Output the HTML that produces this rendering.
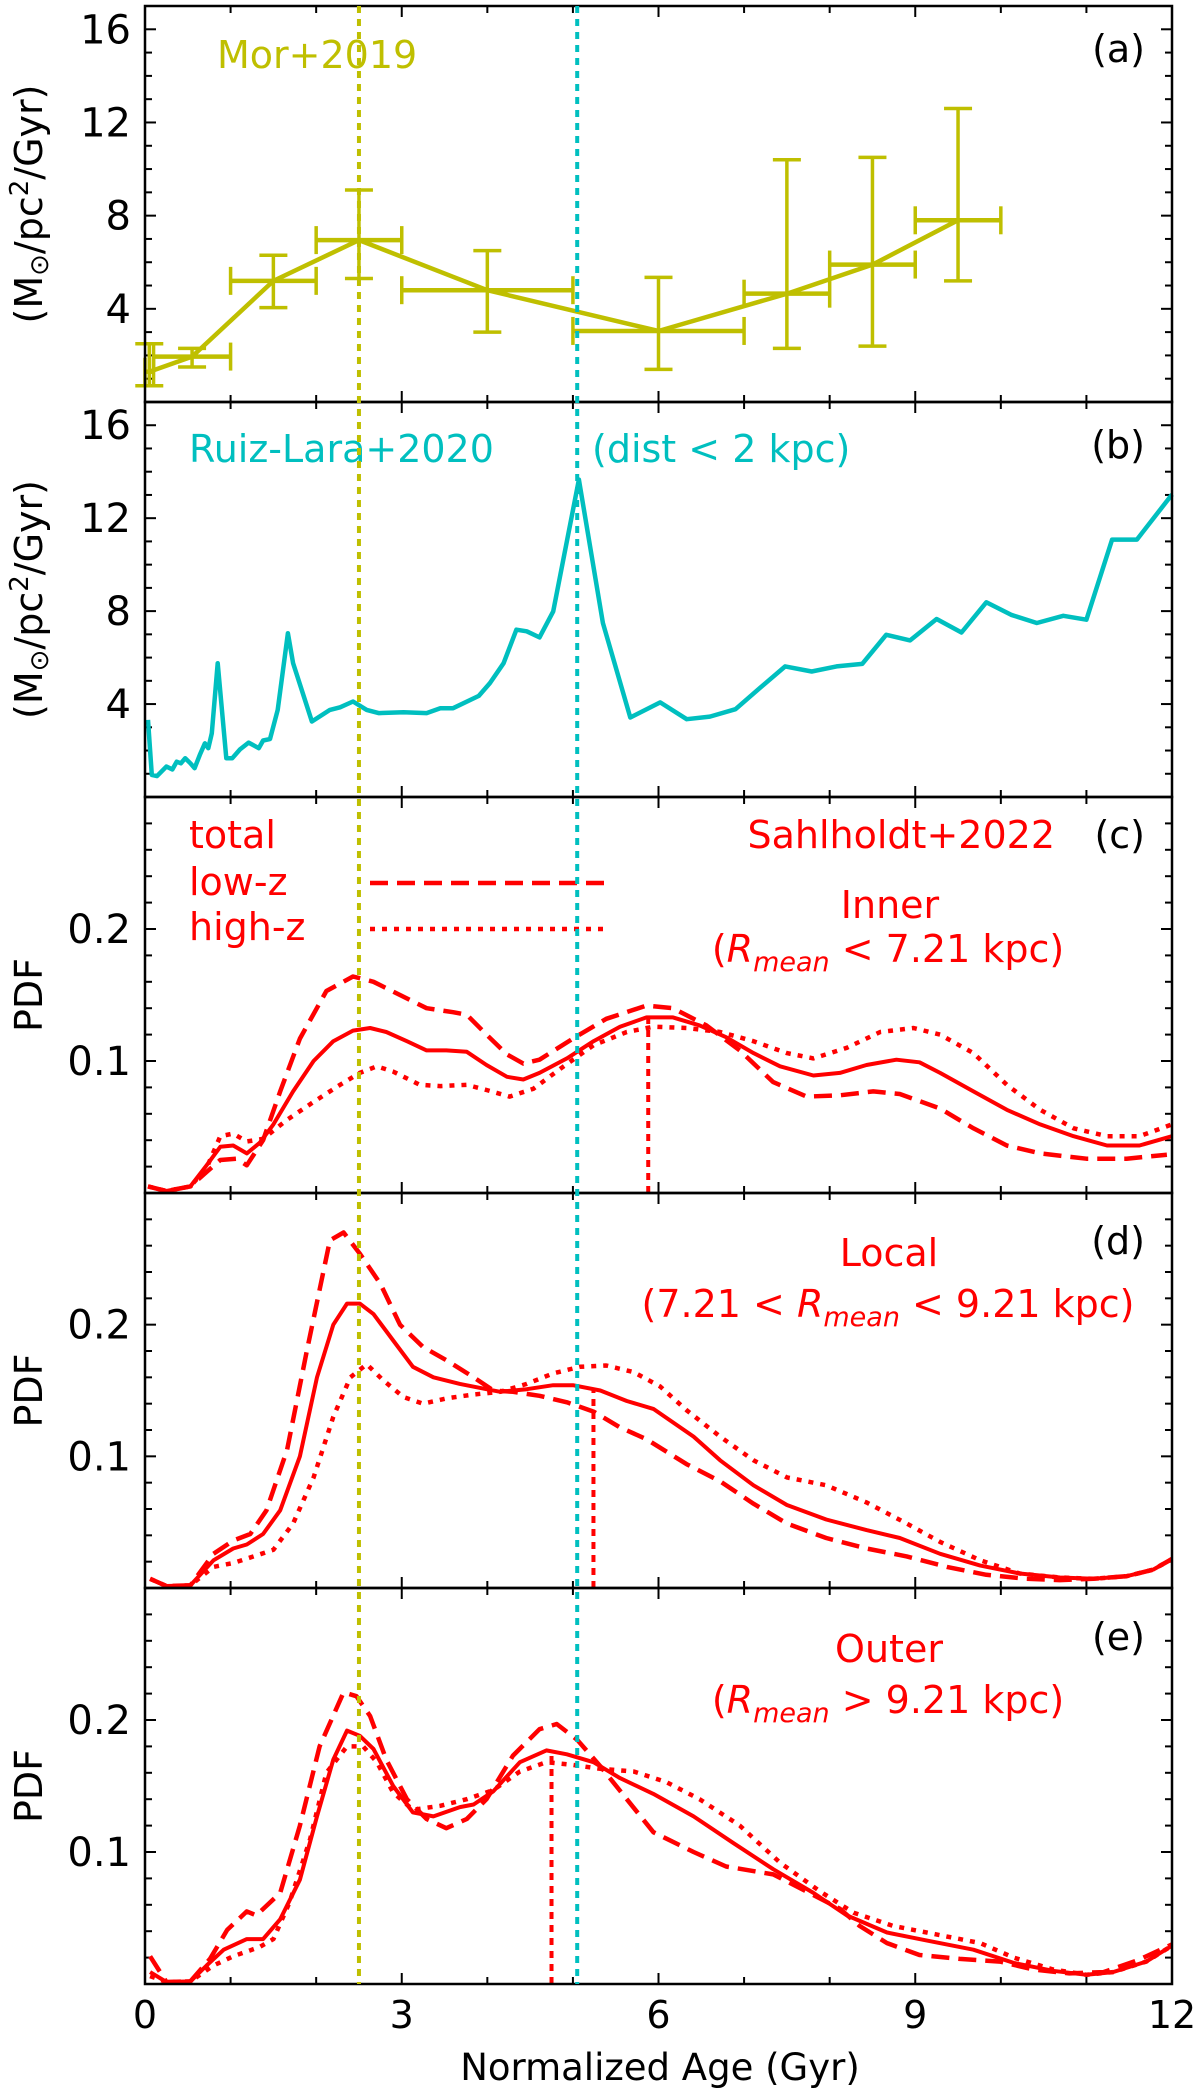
<!DOCTYPE html>
<html><head><meta charset="utf-8">
<style>
html,body{margin:0;padding:0;background:#fff;}
svg{display:block;}
text{font-family:"DejaVu Sans","Liberation Sans",sans-serif;}
</style></head>
<body>
<svg id="chart" width="1200" height="2096" viewBox="0 0 1200 2096" xmlns="http://www.w3.org/2000/svg"></svg>
<script>
// ---- data ----
const morX = [0.05, 0.55, 1.5, 2.5, 4.0, 6.0, 7.5, 8.5, 9.5];
const morY = [1.3, 1.95, 5.2, 6.95, 4.8, 3.05, 4.65, 5.9, 7.8];
const morXlo = [0.0, 0.1, 1.0, 2.0, 3.0, 5.0, 7.0, 8.0, 9.0];
const morXhi = [0.1, 1.0, 2.0, 3.0, 5.0, 7.0, 8.0, 9.0, 10.0];
const morYlo = [0.7, 1.5, 4.05, 5.3, 3.0, 1.4, 2.3, 2.4, 5.2];
const morYhi = [2.5, 2.3, 6.3, 9.1, 6.5, 5.35, 10.4, 10.5, 12.6];

const ruizX = [0.035,0.08,0.14,0.25,0.32,0.37,0.42,0.47,0.53,0.58,0.64,0.70,0.74,0.78,0.85,0.95,1.02,1.11,1.21,1.33,1.38,1.46,1.55,1.67,1.73,1.95,2.16,2.28,2.43,2.59,2.73,3.02,3.29,3.45,3.6,3.9,4.03,4.19,4.34,4.46,4.61,4.77,5.07,5.35,5.67,6.02,6.33,6.6,6.9,7.18,7.48,7.79,8.08,8.38,8.66,8.94,9.25,9.54,9.83,10.12,10.42,10.73,11.0,11.3,11.59,12.0];
const ruizY = [3.32,0.95,0.9,1.31,1.19,1.52,1.45,1.67,1.45,1.24,1.81,2.31,2.1,2.74,5.76,1.67,1.67,2.05,2.34,2.1,2.43,2.49,3.75,7.05,5.76,3.25,3.75,3.86,4.11,3.75,3.61,3.65,3.61,3.82,3.82,4.35,4.9,5.76,7.2,7.13,6.87,7.99,13.66,7.49,3.42,4.07,3.35,3.46,3.78,4.68,5.62,5.4,5.62,5.73,6.98,6.74,7.66,7.08,8.38,7.84,7.49,7.8,7.63,11.08,11.08,13.02];

// panel c (Inner)
const cTotX = [0.035,0.25,0.53,0.72,0.88,1.03,1.19,1.34,1.5,1.73,1.97,2.2,2.43,2.63,2.82,3.06,3.29,3.52,3.76,3.99,4.23,4.42,4.61,4.93,5.24,5.55,5.86,6.17,6.48,6.79,7.11,7.42,7.81,8.12,8.43,8.78,9.05,9.29,9.68,10.07,10.46,10.85,11.24,11.62,12.0];
const cTotY = [0.005,0.0015,0.005,0.021,0.035,0.036,0.03,0.038,0.052,0.077,0.1,0.115,0.123,0.125,0.122,0.115,0.108,0.108,0.107,0.097,0.088,0.086,0.091,0.102,0.115,0.126,0.133,0.133,0.127,0.118,0.106,0.096,0.089,0.091,0.097,0.101,0.099,0.091,0.077,0.063,0.052,0.043,0.036,0.036,0.043];
const cLowX = [0.035,0.25,0.53,0.72,0.88,1.07,1.19,1.38,1.58,1.81,2.12,2.43,2.67,2.98,3.29,3.6,3.76,3.99,4.23,4.42,4.61,5.0,5.39,5.86,6.17,6.56,6.95,7.34,7.73,8.12,8.51,8.82,9.29,9.68,10.07,10.46,11.0,11.47,11.94];
const cLowY = [0.005,0.0015,0.005,0.016,0.025,0.026,0.021,0.04,0.077,0.117,0.153,0.164,0.16,0.15,0.14,0.137,0.135,0.12,0.105,0.098,0.101,0.117,0.132,0.142,0.14,0.127,0.108,0.084,0.073,0.074,0.077,0.075,0.064,0.049,0.036,0.03,0.026,0.026,0.029];
const cHighX = [0.035,0.25,0.53,0.72,0.88,1.03,1.19,1.38,1.65,1.97,2.28,2.51,2.71,2.9,3.21,3.45,3.76,3.99,4.26,4.54,4.85,5.24,5.63,5.94,6.33,6.72,7.11,7.5,7.81,8.2,8.59,8.98,9.29,9.68,10.07,10.46,10.85,11.24,11.62,12.0];
const cHighY = [0.005,0.0015,0.005,0.019,0.043,0.045,0.039,0.041,0.055,0.069,0.082,0.091,0.096,0.092,0.082,0.081,0.082,0.078,0.073,0.079,0.094,0.112,0.122,0.126,0.125,0.122,0.115,0.106,0.102,0.11,0.122,0.125,0.12,0.106,0.082,0.063,0.049,0.043,0.043,0.052];
const cMark = [5.88, 0.133];

// panel d (Local)
const dTotX = [0.06,0.25,0.53,0.8,1.03,1.19,1.38,1.58,1.81,2.01,2.2,2.36,2.51,2.67,2.9,3.13,3.37,3.68,3.99,4.15,4.46,4.77,5.0,5.32,5.63,5.94,6.41,6.72,7.11,7.5,7.96,8.43,8.82,9.29,9.76,10.22,10.69,11.08,11.47,11.78,12.0];
const dTotY = [0.007,0.0015,0.002,0.021,0.03,0.033,0.041,0.059,0.1,0.16,0.2,0.216,0.216,0.208,0.188,0.168,0.16,0.155,0.151,0.149,0.151,0.154,0.154,0.15,0.142,0.136,0.115,0.097,0.078,0.063,0.052,0.044,0.038,0.026,0.017,0.011,0.008,0.007,0.009,0.014,0.022];
const dLowX = [0.06,0.25,0.53,0.8,1.03,1.23,1.42,1.66,1.89,2.16,2.32,2.51,2.75,2.98,3.25,3.52,3.84,4.07,4.3,4.61,4.93,5.24,5.55,5.86,6.33,6.72,7.11,7.5,7.96,8.43,8.9,9.37,9.83,10.3,10.69,11.08,11.47,11.78,12.0];
const dLowY = [0.007,0.0015,0.002,0.026,0.036,0.041,0.059,0.105,0.18,0.264,0.27,0.254,0.231,0.2,0.183,0.173,0.16,0.15,0.149,0.146,0.141,0.134,0.122,0.113,0.094,0.081,0.064,0.049,0.038,0.03,0.024,0.016,0.01,0.007,0.006,0.007,0.009,0.014,0.022];
const dHighX = [0.06,0.25,0.53,0.8,1.03,1.27,1.5,1.73,1.97,2.2,2.4,2.59,2.78,3.02,3.25,3.52,3.84,4.15,4.46,4.77,5.08,5.39,5.71,6.02,6.33,6.72,7.11,7.5,7.96,8.43,8.9,9.29,9.76,10.22,10.69,11.08,11.47,11.78,12.0];
const dHighY = [0.007,0.0015,0.002,0.016,0.019,0.024,0.029,0.049,0.084,0.13,0.16,0.17,0.158,0.145,0.14,0.144,0.147,0.149,0.155,0.163,0.168,0.169,0.164,0.153,0.135,0.115,0.097,0.084,0.078,0.065,0.049,0.035,0.021,0.011,0.008,0.007,0.009,0.014,0.022];
const dMark = [5.24, 0.15];

// panel e (Outer)
const eTotX = [0.06,0.25,0.53,0.72,0.92,1.19,1.38,1.58,1.81,2.01,2.2,2.36,2.51,2.67,2.9,3.13,3.37,3.68,3.84,4.07,4.38,4.69,4.93,5.24,5.55,5.94,6.41,6.87,7.34,7.81,8.2,8.67,9.13,9.68,10.15,10.61,11.0,11.31,11.7,12.0];
const eTotY = [0.009,0.0015,0.002,0.014,0.026,0.034,0.034,0.049,0.079,0.127,0.17,0.192,0.188,0.178,0.15,0.13,0.127,0.134,0.136,0.146,0.168,0.177,0.174,0.168,0.156,0.144,0.127,0.107,0.087,0.069,0.052,0.039,0.033,0.026,0.016,0.01,0.007,0.009,0.017,0.029];
const eLowX = [0.06,0.25,0.53,0.76,0.96,1.19,1.3,1.58,1.81,2.04,2.32,2.47,2.63,2.82,3.06,3.29,3.52,3.76,3.99,4.3,4.61,4.81,5.05,5.32,5.63,5.94,6.41,6.79,7.34,7.73,8.12,8.35,8.67,9.05,9.52,9.99,10.38,10.8,11.2,11.6,12.0];
const eLowY = [0.021,0.0015,0.002,0.019,0.041,0.055,0.052,0.069,0.12,0.18,0.221,0.218,0.203,0.17,0.14,0.125,0.118,0.125,0.14,0.173,0.193,0.197,0.185,0.165,0.14,0.115,0.1,0.089,0.083,0.07,0.057,0.044,0.031,0.022,0.019,0.017,0.011,0.008,0.009,0.018,0.03];
const eHighX = [0.06,0.25,0.53,0.8,1.03,1.34,1.5,1.69,1.93,2.12,2.36,2.55,2.71,2.9,3.13,3.45,3.76,4.07,4.38,4.69,5.0,5.32,5.71,6.09,6.48,6.95,7.42,7.89,8.28,8.74,9.21,9.76,10.15,10.61,11.0,11.31,11.7,12.0];
const eHighY = [0.006,0.0015,0.002,0.014,0.021,0.028,0.034,0.062,0.11,0.16,0.18,0.18,0.168,0.145,0.132,0.135,0.14,0.147,0.161,0.168,0.166,0.163,0.161,0.153,0.14,0.12,0.092,0.07,0.054,0.044,0.038,0.031,0.02,0.011,0.007,0.009,0.017,0.029];
const eMark = [4.75, 0.177];

const vlineYellow = 2.5;
const vlineCyan = 5.05;
const xTicks = [0, 3, 6, 9, 12];
const sfrTicks = [4, 8, 12, 16];
const pdfTicks = [0.1, 0.2];

// ---- layout ----
const NS = "http://www.w3.org/2000/svg";
const svg = document.getElementById('chart');
const X0 = 145, X1 = 1172;
const panelTops = [6, 402, 797, 1193, 1588];
const panelBots = [402, 797, 1193, 1588, 1984];
const YEL = '#bfbf00', CYA = '#00bfbf', RED = '#ff0000';
function xs(v){ return X0 + (X1 - X0) * v / 12; }
function ysFor(i, max){ return v => panelBots[i] - (panelBots[i] - panelTops[i]) * v / max; }
function mk(tag, attrs, parent){
  const e = document.createElementNS(NS, tag);
  for (const k in attrs) e.setAttribute(k, attrs[k]);
  (parent || svg).appendChild(e);
  return e;
}
function txt(s, attrs, parent){ const t = mk('text', attrs, parent); t.textContent = s; return t; }
function poly(xa, ya, ys, style, parent){
  const pts = xa.map((x, i) => xs(x).toFixed(1) + ',' + ys(ya[i]).toFixed(1)).join(' ');
  return mk('polyline', Object.assign({points: pts, fill: 'none', 'stroke-linejoin': 'round'}, style), parent);
}

const panelNames = ['panel-a-mor2019','panel-b-ruizlara2020','panel-c-inner','panel-d-local','panel-e-outer'];
const groups = [];
for (let i = 0; i < 5; i++){
  const g = mk('g', {});
  
  
  groups.push(g);
}

const vg = mk('g', {});


const vl1 = mk('line', {x1: xs(vlineYellow), x2: xs(vlineYellow), y1: panelTops[0], y2: panelBots[4], stroke: YEL, 'stroke-width': 4, 'stroke-dasharray': '7 6'}, vg);


const vl2 = mk('line', {x1: xs(vlineCyan), x2: xs(vlineCyan), y1: panelTops[0], y2: panelBots[4], stroke: CYA, 'stroke-width': 4, 'stroke-dasharray': '7 6'}, vg);



for (let i = 0; i < 5; i++){
  const g = groups[i];
  const top = panelTops[i], bot = panelBots[i];
  const isPdf = i >= 2;
  const max = isPdf ? 0.3 : 17;
  const ys = ysFor(i, max);
  for (let t = 0; t <= 12; t++){
    const major = (t % 3 === 0);
    const L = major ? 11 : 7;
    mk('line', {x1: xs(t), x2: xs(t), y1: bot, y2: bot - L, stroke: '#000', 'stroke-width': 2}, g);
    mk('line', {x1: xs(t), x2: xs(t), y1: top, y2: top + L, stroke: '#000', 'stroke-width': 2}, g);
  }
  const minorStep = isPdf ? 0.02 : 1;
  const nMinor = Math.round(max / minorStep);
  for (let k = 1; k < nMinor; k++){
    const v = k * minorStep;
    const major = isPdf ? (k % 5 === 0) : (k % 4 === 0);
    const L = major ? 11 : 7;
    const y = ys(v);
    mk('line', {x1: X0, x2: X0 + L, y1: y, y2: y, stroke: '#000', 'stroke-width': 2}, g);
    mk('line', {x1: X1, x2: X1 - L, y1: y, y2: y, stroke: '#000', 'stroke-width': 2}, g);
  }
  const labs = isPdf ? pdfTicks : sfrTicks;
  labs.forEach(v => {
    const t = txt(isPdf ? v.toFixed(1) : String(v), {x: 131, y: ys(v) + 14, 'font-size': 40, 'text-anchor': 'end', fill: '#000'}, g);
    
    
  });
  const cy = (top + bot) / 2;
  const yt = txt(isPdf ? 'PDF' : '', {x: 0, y: 0, 'font-size': 38, 'text-anchor': 'middle', fill: '#000', transform: `translate(42,${cy}) rotate(-90)`}, g);
  if (!isPdf){
    yt.textContent = '';
    const s1 = mk('tspan', {}, yt); s1.textContent = '(M';
    const s2 = mk('tspan', {'font-size': 26, dy: 6}, yt); s2.textContent = '⊙';
    const s3 = mk('tspan', {dy: -6}, yt); s3.textContent = '/pc';
    const s4 = mk('tspan', {'font-size': 26, dy: -14}, yt); s4.textContent = '2';
    const s5 = mk('tspan', {dy: 14}, yt); s5.textContent = '/Gyr)';
  }
  
  
}

// ---- panel a ----
(function(){
  const g = groups[0], ys = ysFor(0, 17);
  const line = poly(morX, morY, ys, {stroke: YEL, 'stroke-width': 4.5}, g);
  
  
  morX.forEach((x, i) => {
    const eg = mk('g', {stroke: YEL, 'stroke-width': 3.5, fill: 'none'}, g);
    
    
    const y = ys(morY[i]);
    mk('line', {x1: xs(morXlo[i]), x2: xs(morXhi[i]), y1: y, y2: y, 'stroke-width': 4.5}, eg);
    mk('line', {x1: xs(morXlo[i]), x2: xs(morXlo[i]), y1: y - 14, y2: y + 14}, eg);
    mk('line', {x1: xs(morXhi[i]), x2: xs(morXhi[i]), y1: y - 14, y2: y + 14}, eg);
    mk('line', {x1: xs(x), x2: xs(x), y1: ys(morYlo[i]), y2: ys(morYhi[i])}, eg);
    mk('line', {x1: xs(x) - 14, x2: xs(x) + 14, y1: ys(morYlo[i]), y2: ys(morYlo[i])}, eg);
    mk('line', {x1: xs(x) - 14, x2: xs(x) + 14, y1: ys(morYhi[i]), y2: ys(morYhi[i])}, eg);
  });
  const t = txt('Mor+2019', {x: 217, y: 68, 'font-size': 38, fill: YEL}, g);
  
  
  const p = txt('(a)', {x: 1145, y: 62, 'font-size': 38, 'text-anchor': 'end', fill: '#000'}, g);
  
  
})();

// ---- panel b ----
(function(){
  const g = groups[1], ys = ysFor(1, 17);
  const line = poly(ruizX, ruizY, ys, {stroke: CYA, 'stroke-width': 4.5}, g);
  
  
  const t = txt('Ruiz-Lara+2020', {x: 189, y: 462, 'font-size': 38, fill: CYA}, g);
  
  
  const t2 = txt('(dist < 2 kpc)', {x: 592, y: 462, 'font-size': 38, fill: CYA}, g);
  
  
  const p = txt('(b)', {x: 1145, y: 458, 'font-size': 38, 'text-anchor': 'end', fill: '#000'}, g);
  
  
})();

// ---- PDF panels ----
function pdfPanel(i, tx, ty, lx, ly, hx, hy, mark){
  const g = groups[i], ys = ysFor(i, 0.3);
  const a = poly(tx, ty, ys, {stroke: RED, 'stroke-width': 4}, g);
  
  
  const b = poly(lx, ly, ys, {stroke: RED, 'stroke-width': 4.5, 'stroke-dasharray': '18 9'}, g);
  
  
  const c = poly(hx, hy, ys, {stroke: RED, 'stroke-width': 4.5, 'stroke-dasharray': '5 7'}, g);
  
  
  const m = mk('line', {x1: xs(mark[0]), x2: xs(mark[0]), y1: panelBots[i], y2: ys(mark[1]), stroke: RED, 'stroke-width': 4, 'stroke-dasharray': '7 6'}, g);
  
  
}
pdfPanel(2, cTotX, cTotY, cLowX, cLowY, cHighX, cHighY, cMark);
pdfPanel(3, dTotX, dTotY, dLowX, dLowY, dHighX, dHighY, dMark);
pdfPanel(4, eTotX, eTotY, eLowX, eLowY, eHighX, eHighY, eMark);

function label(g, s, attrs, name){
  const t = txt(s, Object.assign({'font-size': 38, fill: RED}, attrs), g);
  
  
  return t;
}
function rmean(g, before, after, x, y, name){
  const t = txt('', {x: x, y: y, 'font-size': 38, fill: RED, 'text-anchor': 'middle'}, g);
  const a = mk('tspan', {}, t); a.textContent = before;
  const b = mk('tspan', {'font-style': 'italic'}, t); b.textContent = 'R';
  const c = mk('tspan', {'font-style': 'italic', 'font-size': 27, dy: 9}, t); c.textContent = 'mean';
  const d = mk('tspan', {dy: -9}, t); d.textContent = after;
  
  
}
(function(){
  const g = groups[2];
  const lg = mk('g', {}, g);
  
  
  label(lg, 'total', {x: 189, y: 848}, 'legend-entry-total');
  label(lg, 'low-z', {x: 189, y: 895}, 'legend-entry-low-z');
  label(lg, 'high-z', {x: 189, y: 940}, 'legend-entry-high-z');
  const l1 = mk('line', {x1: 370, x2: 610, y1: 883, y2: 883, stroke: RED, 'stroke-width': 4.5, 'stroke-dasharray': '18 9'}, lg);
  
  
  const l2 = mk('line', {x1: 370, x2: 610, y1: 929, y2: 929, stroke: RED, 'stroke-width': 4.5, 'stroke-dasharray': '5 7'}, lg);
  
  
  label(g, 'Sahlholdt+2022', {x: 1055, y: 848, 'text-anchor': 'end'}, 'sahlholdt2022-label');
  label(g, 'Inner', {x: 890, y: 918, 'text-anchor': 'middle'}, 'inner-label');
  rmean(g, '(', ' < 7.21 kpc)', 888, 962, 'inner-radius-range');
  const p = txt('(c)', {x: 1145, y: 848, 'font-size': 38, 'text-anchor': 'end', fill: '#000'}, g);
  
  
})();
(function(){
  const g = groups[3];
  label(g, 'Local', {x: 889, y: 1266, 'text-anchor': 'middle'}, 'local-label');
  rmean(g, '(7.21 < ', ' < 9.21 kpc)', 888, 1317, 'local-radius-range');
  const p = txt('(d)', {x: 1145, y: 1254, 'font-size': 38, 'text-anchor': 'end', fill: '#000'}, g);
  
  
})();
(function(){
  const g = groups[4];
  label(g, 'Outer', {x: 889, y: 1662, 'text-anchor': 'middle'}, 'outer-label');
  rmean(g, '(', ' > 9.21 kpc)', 888, 1713, 'outer-radius-range');
  const p = txt('(e)', {x: 1145, y: 1650, 'font-size': 38, 'text-anchor': 'end', fill: '#000'}, g);
  
  
})();

for (let i = 0; i < 5; i++){
  const r = mk('rect', {x: X0, y: panelTops[i], width: X1 - X0, height: panelBots[i] - panelTops[i], fill: 'none', stroke: '#000', 'stroke-width': 2.5}, groups[i]);
  
  
}

xTicks.forEach(v => {
  const t = txt(String(v), {x: xs(v), y: 2028, 'font-size': 38, 'text-anchor': 'middle', fill: '#000'});
  
  
});
const xt = txt('Normalized Age (Gyr)', {x: 660, y: 2080, 'font-size': 37, 'text-anchor': 'middle', fill: '#000'});


</script>
</body></html>
